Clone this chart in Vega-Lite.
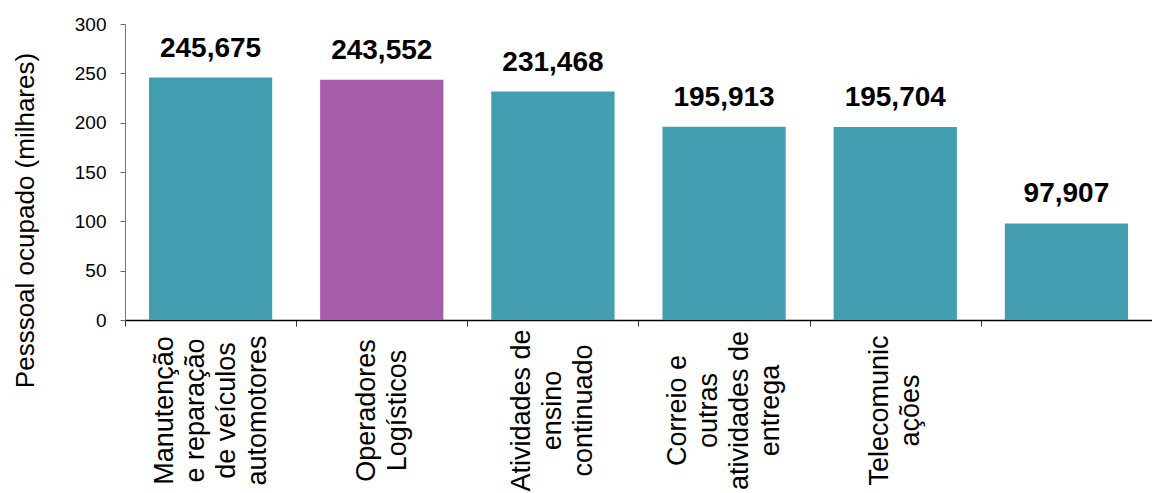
{
  "$schema": "https://vega.github.io/schema/vega-lite/v6.json",
  "autosize": {"type": "none"},
  "width": 1027,
  "height": 296,
  "padding": {"left": 125, "top": 24, "right": 0, "bottom": 173},
  "background": "white",
  "config": {
    "view": {"stroke": null},
    "font": "Liberation Sans",
    "locale": {"number": {"decimal": ",", "thousands": ".", "grouping": [3], "currency": ["", ""]}}
  },
  "data": {
    "values": [
      {"cat": "Manutenção|e reparação|de veículos|automotores", "value": 245.675, "group": "outros"},
      {"cat": "Operadores|Logísticos", "value": 243.552, "group": "destaque"},
      {"cat": "Atividades de|ensino|continuado", "value": 231.468, "group": "outros"},
      {"cat": "Correio e|outras|atividades de|entrega", "value": 195.913, "group": "outros"},
      {"cat": "Telecomunic|ações", "value": 195.704, "group": "outros"},
      {"cat": " ", "value": 97.907, "group": "outros"}
    ]
  },
  "encoding": {
    "x": {
      "field": "cat", "type": "nominal", "sort": null,
      "scale": {"paddingInner": 0.28, "paddingOuter": 0.14},
      "axis": {
        "title": null,
        "labelExpr": "split(datum.value, '|')",
        "labelAngle": -90,
        "labelAlign": "center",
        "labelBaseline": "middle",
        "labelPadding": 84,
        "labelOffset": {"expr": "85.6 - (length(split(datum.value, '|')) - 1) * 15.5"},
        "labelFontSize": 27,
        "labelLineHeight": 31,
        "labelColor": "black",
        "labelFont": "Liberation Sans",
        "tickOffset": -85.6,
        "tickSize": 6,
        "tickColor": "#333333",
        "domainColor": "black",
        "domainWidth": 1.5,
        "labelOverlap": false,
        "labelBound": false,
        "labelFlush": false
      }
    },
    "y": {
      "field": "value", "type": "quantitative",
      "scale": {"domain": [0, 300], "nice": false},
      "axis": {
        "title": "Pesssoal ocupado (milhares)",
        "titleFontSize": 26,
        "titleFontWeight": "normal",
        "titleColor": "black",
        "titleFont": "Liberation Sans",
        "titleAngle": -90,
        "titleAlign": "center",
        "titleBaseline": "middle",
        "titleX": -100,
        "titleY": 196,
        "values": [0, 50, 100, 150, 200, 250, 300],
        "format": "d",
        "labelFontSize": 19,
        "labelColor": "black",
        "labelPadding": 14,
        "tickSize": 5,
        "tickColor": "#666666",
        "domainColor": "#777777",
        "grid": false
      }
    }
  },
  "layer": [
    {
      "mark": {"type": "bar"},
      "encoding": {
        "color": {
          "field": "group", "type": "nominal", "legend": null,
          "scale": {"domain": ["outros", "destaque"], "range": ["#429EB0", "#A65CAA"]}
        }
      }
    },
    {
      "mark": {"type": "text", "fontSize": 28, "fontWeight": "bold", "baseline": "bottom", "dy": -15, "color": "black"},
      "encoding": {
        "text": {"field": "value", "type": "quantitative", "format": ".3f"}
      }
    }
  ]
}
